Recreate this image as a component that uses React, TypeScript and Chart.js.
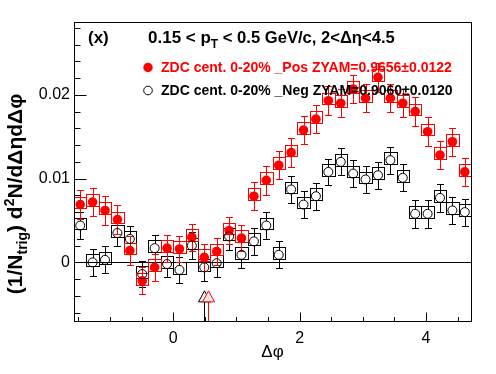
import React, { useEffect, useRef } from "react";
import { Chart, registerables } from "chart.js";

Chart.register(...registerables);

const FONT = "'Liberation Sans', Arial, Helvetica, sans-serif";

// Δφ bin centres (32 bins over [-π/2, 3π/2])
const binCenters = [
  -1.4726, -1.2763, -1.0799, -0.8836, -0.6872, -0.4909, -0.2945, -0.0982,
  0.0982, 0.2945, 0.4909, 0.6872, 0.8836, 1.0799, 1.2763, 1.4726,
  1.669, 1.8653, 2.0617, 2.258, 2.4544, 2.6507, 2.8471, 3.0434,
  3.2398, 3.4361, 3.6325, 3.8288, 4.0252, 4.2215, 4.4179, 4.6142,
];
const binHalfWidth = 0.0982;

// ZDC cent. 0-20% _Pos (red, filled)
const posValues = [
  0.0069, 0.0072, 0.0062, 0.0051, 0.0014, -0.0022, -0.0006, 0.0017,
  0.0016, 0.003, 0.0006, 0.0013, 0.0038, 0.0029, 0.0079, 0.0098,
  0.0116, 0.0131, 0.0158, 0.0171, 0.0193, 0.019, 0.0207, 0.0196,
  0.0221, 0.0196, 0.019, 0.018, 0.0156, 0.0128, 0.0144, 0.0108,
];
const posStatErr = [
  0.0017, 0.0017, 0.0017, 0.0017, 0.0017, 0.0016, 0.0016, 0.0016,
  0.0016, 0.0016, 0.0016, 0.0016, 0.0016, 0.0016, 0.0017, 0.0017,
  0.0017, 0.0017, 0.0017, 0.0017, 0.0017, 0.0017, 0.0017, 0.0017,
  0.0017, 0.0017, 0.0017, 0.0017, 0.0017, 0.0017, 0.0017, 0.0017,
];
const posSysUp = [
  0.00095, 0.00095, 0.00095, 0.00095, 0.00095, 0.00095, 0.00095, 0.00095,
  0.00095, 0.00095, 0.00095, 0.00095, 0.00095, 0.00095, 0.00095, 0.00095,
  0.00095, 0.00095, 0.00095, 0.00095, 0.00095, 0.00095, 0.00095, 0.00095,
  0.00095, 0.00095, 0.00095, 0.00095, 0.00095, 0.00095, 0.00095, 0.00095,
];
const posSysDown = [
  0.00045, 0.00045, 0.00045, 0.00045, 0.00045, 0.00045, 0.00045, 0.00045,
  0.00045, 0.00045, 0.00045, 0.00045, 0.00045, 0.00045, 0.00045, 0.00045,
  0.00045, 0.00045, 0.00045, 0.00045, 0.00045, 0.00045, 0.00045, 0.00045,
  0.00045, 0.00045, 0.00045, 0.00045, 0.00045, 0.00045, 0.00045, 0.00045,
];

// ZDC cent. 0-20% _Neg (black, open)
const negValues = [
  0.0044, 0.0, 0.0003, 0.0035, 0.0028, -0.0014, 0.0017, -0.0002,
  -0.0009, 0.002, -0.0006, -0.0001, 0.0031, 0.0009, 0.0025, 0.0044,
  0.0009, 0.0087, 0.0069, 0.0079, 0.0108, 0.012, 0.0106, 0.0099,
  0.0104, 0.0122, 0.0101, 0.0058, 0.0058, 0.0077, 0.0062, 0.006,
];
const negStatErr = [
  0.0016, 0.0016, 0.0016, 0.0016, 0.0016, 0.0016, 0.0016, 0.0016,
  0.0016, 0.0016, 0.0016, 0.0016, 0.0016, 0.0016, 0.0016, 0.0016,
  0.0016, 0.0016, 0.0016, 0.0016, 0.0016, 0.0016, 0.0016, 0.0016,
  0.0016, 0.0016, 0.0016, 0.0017, 0.0017, 0.0017, 0.0016, 0.0016,
];
const negSysUp = [
  0.00095, 0.00095, 0.00095, 0.00095, 0.00095, 0.00095, 0.00095, 0.00095,
  0.00095, 0.00095, 0.00095, 0.00095, 0.00095, 0.00095, 0.00095, 0.00095,
  0.00095, 0.00095, 0.00095, 0.00095, 0.00095, 0.00095, 0.00095, 0.00095,
  0.00095, 0.00095, 0.00095, 0.00095, 0.00095, 0.00095, 0.00095, 0.00095,
];
const negSysDown = [
  0.00045, 0.00045, 0.00045, 0.00045, 0.00045, 0.00045, 0.00045, 0.00045,
  0.00045, 0.00045, 0.00045, 0.00045, 0.00045, 0.00045, 0.00045, 0.00045,
  0.00045, 0.00045, 0.00045, 0.00045, 0.00045, 0.00045, 0.00045, 0.00045,
  0.00045, 0.00045, 0.00045, 0.00045, 0.00045, 0.00045, 0.00045, 0.00045,
];

// ZYAM arrows
const negZyamX = 0.485;
const posZyamX = 0.555;
const zyamArrowTip = -0.0034;

// axes
const xMin = -1.5708;
const xMax = 4.7124;
const yMin = -0.007;
const yMax = 0.0287;
const xMajorTicks = [0, 2, 4];
const xTickLabels = ["0", "2", "4"];
const xMinorTicks = [-1.5, -1, -0.5, 0.5, 1, 1.5, 2.5, 3, 3.5, 4.5];
const yMajorTicks = [0, 0.01, 0.02];
const yTickLabels = ["0", "0.01", "0.02"];
const yMinorTicks = [
  -0.006, -0.004, -0.002, 0.002, 0.004, 0.006, 0.008, 0.012, 0.014, 0.016,
  0.018, 0.022, 0.024, 0.026, 0.028,
];

const posLabel = "ZDC cent. 0-20% _Pos ZYAM=0.9656\u00b10.0122";
const negLabel = "ZDC cent. 0-20% _Neg ZYAM=0.9060\u00b10.0120";

const RED = "#ff0000";
const BLACK = "#000000";

type Part = { t: string; size: number; dy: number };

function drawParts(ctx: CanvasRenderingContext2D, parts: Part[], weight: string, x0: number, y0: number, align: "left" | "center") {
  let total = 0;
  for (const p of parts) {
    ctx.font = `${weight} ${p.size}px ${FONT}`;
    total += ctx.measureText(p.t).width;
  }
  let x = align === "center" ? x0 - total / 2 : x0;
  for (const p of parts) {
    ctx.font = `${weight} ${p.size}px ${FONT}`;
    ctx.fillText(p.t, x, y0 + p.dy);
    x += ctx.measureText(p.t).width;
  }
}

function drawSeries(
  ctx: CanvasRenderingContext2D,
  xs: any,
  ys: any,
  values: number[],
  err: number[],
  sysUp: number[],
  sysDown: number[],
  color: string,
  r: number
) {
  ctx.strokeStyle = color;
  ctx.lineWidth = 1;
  for (let i = 0; i < values.length; i++) {
    const xl = Math.round(xs.getPixelForValue(binCenters[i] - binHalfWidth));
    const xr = Math.round(xs.getPixelForValue(binCenters[i] + binHalfWidth));
    const yt = Math.round(ys.getPixelForValue(values[i] + sysUp[i]));
    const yb = Math.round(ys.getPixelForValue(values[i] - sysDown[i]));
    ctx.strokeRect(xl + 0.5, yt + 0.5, xr - xl, yb - yt);
    const xc = Math.round(xs.getPixelForValue(binCenters[i])) + 0.5;
    const yc = ys.getPixelForValue(values[i]);
    const y1 = Math.round(ys.getPixelForValue(values[i] + err[i])) + 0.5;
    const y2 = Math.round(ys.getPixelForValue(values[i] - err[i])) + 0.5;
    ctx.beginPath();
    ctx.moveTo(xc, y1);
    ctx.lineTo(xc, yc - r);
    ctx.moveTo(xc, yc + r);
    ctx.lineTo(xc, y2);
    ctx.moveTo(xc - 3.5, y1);
    ctx.lineTo(xc + 3.5, y1);
    ctx.moveTo(xc - 3.5, y2);
    ctx.lineTo(xc + 3.5, y2);
    ctx.stroke();
  }
}

function drawArrow(ctx: CanvasRenderingContext2D, xs: any, ys: any, xv: number, color: string) {
  const xc = Math.round(xs.getPixelForValue(xv)) + 0.5;
  const tip = ys.getPixelForValue(zyamArrowTip);
  const base = ys.getPixelForValue(yMin);
  const th = 11;
  const hw = 6;
  ctx.strokeStyle = color;
  ctx.lineWidth = 1;
  ctx.beginPath();
  ctx.moveTo(xc, base);
  ctx.lineTo(xc, tip + th);
  ctx.stroke();
  ctx.beginPath();
  ctx.moveTo(xc, tip);
  ctx.lineTo(xc - hw, tip + th);
  ctx.lineTo(xc + hw, tip + th);
  ctx.closePath();
  ctx.fillStyle = "rgba(240,240,240,0.9)";
  ctx.fill();
  ctx.stroke();
}

const overlay = {
  id: "overlay",
  beforeDatasetsDraw(chart: any) {
    const { ctx, chartArea, scales } = chart;
    const xs = scales.x;
    const ys = scales.y;
    ctx.save();
    const y0 = Math.round(ys.getPixelForValue(0)) + 0.5;
    ctx.strokeStyle = BLACK;
    ctx.lineWidth = 1;
    ctx.beginPath();
    ctx.moveTo(chartArea.left, y0);
    ctx.lineTo(chartArea.right, y0);
    ctx.stroke();
    drawSeries(ctx, xs, ys, negValues, negStatErr, negSysUp, negSysDown, BLACK, 4.5);
    drawSeries(ctx, xs, ys, posValues, posStatErr, posSysUp, posSysDown, RED, 4.5);
    ctx.restore();
  },
  afterDatasetsDraw(chart: any) {
    const { ctx, chartArea, scales } = chart;
    const { left, right, top, bottom } = chartArea;
    const xs = scales.x;
    const ys = scales.y;
    ctx.save();
    drawArrow(ctx, xs, ys, negZyamX, BLACK);
    drawArrow(ctx, xs, ys, posZyamX, RED);

    // frame
    ctx.strokeStyle = BLACK;
    ctx.lineWidth = 1;
    ctx.strokeRect(Math.round(left) + 0.5, Math.round(top) + 0.5, Math.round(right - left), Math.round(bottom - top));

    // ticks
    const bx = Math.round(bottom) + 0.5;
    const lx = Math.round(left) + 0.5;
    ctx.beginPath();
    for (const v of xMajorTicks) {
      const p = Math.round(xs.getPixelForValue(v)) + 0.5;
      ctx.moveTo(p, bx);
      ctx.lineTo(p, bx - 9);
    }
    for (const v of xMinorTicks) {
      const p = Math.round(xs.getPixelForValue(v)) + 0.5;
      ctx.moveTo(p, bx);
      ctx.lineTo(p, bx - 4.5);
    }
    for (const v of yMajorTicks) {
      const p = Math.round(ys.getPixelForValue(v)) + 0.5;
      ctx.moveTo(lx, p);
      ctx.lineTo(lx + 12, p);
    }
    for (const v of yMinorTicks) {
      const p = Math.round(ys.getPixelForValue(v)) + 0.5;
      ctx.moveTo(lx, p);
      ctx.lineTo(lx + 6, p);
    }
    ctx.stroke();

    // axis titles
    ctx.fillStyle = BLACK;
    ctx.textBaseline = "alphabetic";
    ctx.textAlign = "left";
    drawParts(ctx, [{ t: "\u0394\u03c6", size: 17, dy: 0 }], "normal", (left + right) / 2, 357, "center");

    ctx.save();
    ctx.translate(22, 194);
    ctx.rotate(-Math.PI / 2);
    drawParts(
      ctx,
      [
        { t: "(1/N", size: 21, dy: 0 },
        { t: "trig", size: 14, dy: 5 },
        { t: ") d", size: 21, dy: 0 },
        { t: "2", size: 14, dy: -8 },
        { t: "N/d\u0394\u03b7d\u0394\u03c6", size: 21, dy: 0 },
      ],
      "bold",
      0,
      0,
      "center"
    );
    ctx.restore();

    // panel label and title
    ctx.fillStyle = BLACK;
    drawParts(ctx, [{ t: "(x)", size: 17, dy: 0 }], "bold", 88, 43, "left");
    drawParts(
      ctx,
      [
        { t: "0.15 < p", size: 17, dy: 0 },
        { t: "T", size: 12, dy: 5 },
        { t: " < 0.5 GeV/c, 2<\u0394\u03b7<4.5", size: 16.6, dy: 0 },
      ],
      "bold",
      148,
      43,
      "left"
    );

    // legend
    ctx.beginPath();
    ctx.arc(148, 67.5, 4.7, 0, Math.PI * 2);
    ctx.fillStyle = RED;
    ctx.fill();
    ctx.beginPath();
    ctx.arc(148, 90.5, 4.3, 0, Math.PI * 2);
    ctx.strokeStyle = BLACK;
    ctx.lineWidth = 1;
    ctx.stroke();
    ctx.textBaseline = "middle";
    ctx.font = `bold 14px ${FONT}`;
    ctx.fillStyle = RED;
    ctx.fillText(posLabel, 161, 68);
    ctx.fillStyle = BLACK;
    ctx.fillText(negLabel, 161, 91);
    ctx.restore();
  },
};

export default function App() {
  const ref = useRef<HTMLCanvasElement | null>(null);
  useEffect(() => {
    if (!ref.current) return;
    const chart = new Chart(ref.current, {
      type: "scatter",
      data: {
        datasets: [
          {
            label: negLabel,
            data: binCenters.map((x, i) => ({ x, y: negValues[i] })),
            pointStyle: "circle",
            pointRadius: 4.5,
            pointBorderWidth: 1,
            pointBorderColor: BLACK,
            pointBackgroundColor: "rgba(0,0,0,0)",
            showLine: false,
          },
          {
            label: posLabel,
            data: binCenters.map((x, i) => ({ x, y: posValues[i] })),
            pointStyle: "circle",
            pointRadius: 4.8,
            pointBorderWidth: 0,
            pointBorderColor: RED,
            pointBackgroundColor: RED,
            showLine: false,
          },
        ],
      },
      options: {
        animation: false,
        responsive: false,
        devicePixelRatio: 1,
        layout: { padding: { top: 22, right: 25, left: 0, bottom: 0 } },
        plugins: { legend: { display: false }, tooltip: { enabled: false } },
        scales: {
          x: {
            type: "linear",
            min: xMin,
            max: xMax,
            grid: { display: false, drawTicks: false },
            border: { display: false },
            afterBuildTicks: (s: any) => {
              s.ticks = xMajorTicks.map((v) => ({ value: v }));
            },
            afterFit: (s: any) => {
              s.height = 53;
            },
            ticks: {
              padding: 8,
              color: BLACK,
              font: { family: FONT, size: 16 },
              callback: (v: any) => {
                const i = xMajorTicks.indexOf(Number(v));
                return i >= 0 ? xTickLabels[i] : "";
              },
            },
          },
          y: {
            type: "linear",
            min: yMin,
            max: yMax,
            grid: { display: false, drawTicks: false },
            border: { display: false },
            afterBuildTicks: (s: any) => {
              s.ticks = yMajorTicks.map((v) => ({ value: v }));
            },
            afterFit: (s: any) => {
              s.width = 74;
            },
            ticks: {
              padding: 4,
              color: BLACK,
              font: { family: FONT, size: 16 },
              callback: (v: any) => {
                const i = yMajorTicks.findIndex((t) => Math.abs(t - Number(v)) < 1e-9);
                return i >= 0 ? yTickLabels[i] : "";
              },
            },
          },
        },
      },
      plugins: [overlay],
    });
    return () => chart.destroy();
  }, []);
  return (
    <div style={{ position: "fixed", left: 0, top: 0, width: 496, height: 374, background: "#fff" }}>
      <canvas ref={ref} width={496} height={374} style={{ width: 496, height: 374, display: "block" }} />
    </div>
  );
}
